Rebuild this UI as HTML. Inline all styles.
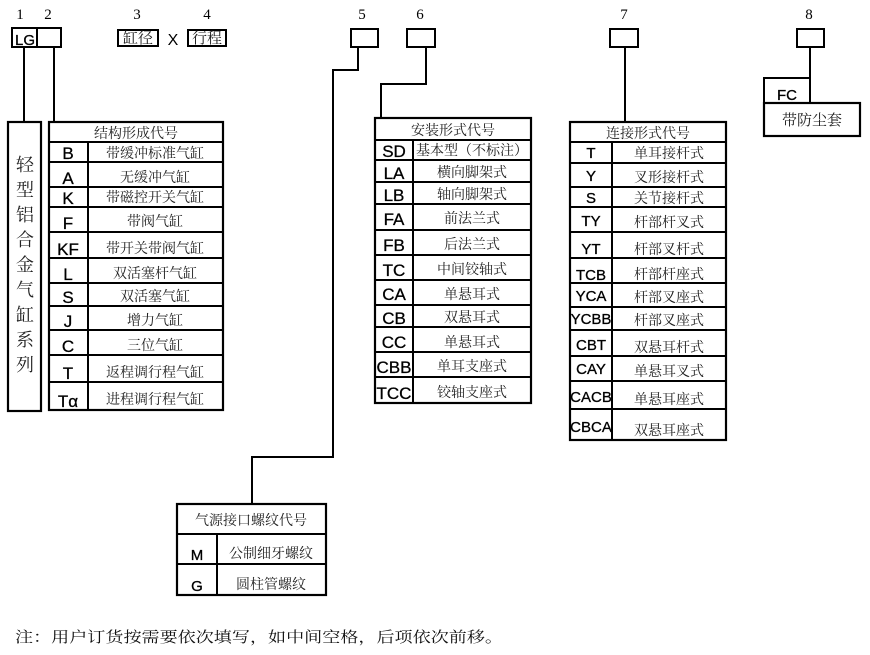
<!DOCTYPE html>
<html><head><meta charset="utf-8"><style>
html,body{margin:0;padding:0;background:#fff;}
svg{display:block;}
.c{font-family:"Liberation Sans","DejaVu Sans",sans-serif;font-size:17px;fill:#000;text-anchor:middle;stroke:#000;stroke-width:0.3;}
.t{font-family:"Liberation Serif","Noto Serif CJK SC",serif;font-size:14px;fill:#222;text-anchor:middle;}
.n{font-family:"Liberation Serif",serif;font-size:15px;fill:#000;text-anchor:middle;}
</style></head><body>
<svg width="870" height="655" viewBox="0 0 870 655" xmlns="http://www.w3.org/2000/svg">
<g fill="none" stroke="#000" stroke-width="2">
<rect x="12" y="28" width="49" height="19"/><line x1="37" y1="28" x2="37" y2="47"/>
<rect x="118" y="30" width="40" height="16"/>
<rect x="188" y="30" width="38" height="16"/>
<rect x="351" y="29" width="27" height="18"/>
<rect x="407" y="29" width="28" height="18"/>
<rect x="610" y="29" width="28" height="18"/>
<rect x="797" y="29" width="27" height="18"/>
<polyline points="24,47 24,122"/>
<polyline points="54,47 54,122"/>
<polyline points="358,47 358,70 333,70 333,457 252,457 252,504"/>
<polyline points="426,47 426,84 381,84 381,118"/>
<polyline points="625,47 625,122"/>
<polyline points="810,47 810,103"/>
<rect x="8" y="122" width="33" height="289" stroke-width="2.2"/>
<rect x="49" y="122" width="174" height="288" stroke-width="2.2"/>
<line x1="88" y1="142" x2="88" y2="410"/>
<path d="M49 142H223M49 162H223M49 187H223M49 207H223M49 232H223M49 258H223M49 283H223M49 306H223M49 330H223M49 355H223M49 382H223"/>
<rect x="375" y="118" width="156" height="285" stroke-width="2.2"/>
<line x1="413" y1="140" x2="413" y2="403"/>
<path d="M375 140H531M375 160H531M375 182H531M375 204H531M375 230H531M375 255H531M375 280H531M375 305H531M375 327H531M375 352H531M375 377H531"/>
<rect x="570" y="122" width="156" height="318" stroke-width="2.2"/>
<line x1="612" y1="142" x2="612" y2="440"/>
<path d="M570 142H726M570 163H726M570 187H726M570 207H726M570 232H726M570 258H726M570 283H726M570 307H726M570 330H726M570 356H726M570 381H726M570 409H726"/>
<rect x="764" y="78" width="46" height="25"/>
<rect x="764" y="103" width="96" height="33" stroke-width="2.2"/>
<rect x="177" y="504" width="149" height="91" stroke-width="2.2"/>
<line x1="217" y1="534" x2="217" y2="595"/>
<path d="M177 534H326M177 564H326"/>
</g>
<text class="n" x="20" y="19">1</text><text class="n" x="48" y="19">2</text>
<text class="n" x="137" y="19">3</text><text class="n" x="207" y="19">4</text>
<text class="n" x="362" y="19">5</text><text class="n" x="420" y="19">6</text>
<text class="n" x="624" y="19">7</text><text class="n" x="809" y="19">8</text>
<text class="c" x="25" y="45" style="font-size:15px">LG</text>
<text class="t" x="138" y="43" style="font-size:15px">缸径</text>
<text class="c" x="173" y="45" style="font-size:16px;stroke-width:0">X</text>
<text class="t" x="207" y="43" style="font-size:15px">行程</text>
<text class="c" x="787" y="100" style="font-size:15px">FC</text>
<text class="t" x="812" y="125" style="font-size:15px">带防尘套</text>
<g class="t" style="font-size:18px">
<text x="25" y="171">轻</text><text x="25" y="196">型</text><text x="25" y="221">铝</text>
<text x="25" y="246">合</text><text x="25" y="271">金</text><text x="25" y="296">气</text>
<text x="25" y="321">缸</text><text x="25" y="346">系</text><text x="25" y="371">列</text>
</g>
<text class="t" x="136" y="138">结构形成代号</text>
<g class="c">
<text x="68" y="159">B</text><text x="68" y="184">A</text><text x="68" y="204">K</text><text x="68" y="229">F</text>
<text x="68" y="255">KF</text><text x="68" y="280">L</text><text x="68" y="303">S</text><text x="68" y="327">J</text>
<text x="68" y="352">C</text><text x="68" y="379">T</text><text x="68" y="407">Tα</text>
</g>
<g class="t">
<text x="155" y="158">带缓冲标准气缸</text><text x="155" y="182">无缓冲气缸</text><text x="155" y="202">带磁控开关气缸</text>
<text x="155" y="226">带阀气缸</text><text x="155" y="253">带开关带阀气缸</text><text x="155" y="278">双活塞杆气缸</text>
<text x="155" y="301">双活塞气缸</text><text x="155" y="325">增力气缸</text><text x="155" y="350">三位气缸</text>
<text x="155" y="377">返程调行程气缸</text><text x="155" y="404">进程调行程气缸</text>
</g>
<text class="t" x="453" y="135">安装形式代号</text>
<g class="c">
<text x="394" y="157">SD</text><text x="394" y="179">LA</text><text x="394" y="201">LB</text><text x="394" y="225">FA</text>
<text x="394" y="251">FB</text><text x="394" y="276">TC</text><text x="394" y="300">CA</text><text x="394" y="324">CB</text>
<text x="394" y="348">CC</text><text x="394" y="373">CBB</text><text x="394" y="399">TCC</text>
</g>
<g class="t">
<text x="472" y="155">基本型（不标注）</text><text x="472" y="177">横向脚架式</text><text x="472" y="199">轴向脚架式</text>
<text x="472" y="223">前法兰式</text><text x="472" y="249">后法兰式</text><text x="472" y="274">中间铰轴式</text>
<text x="472" y="299">单悬耳式</text><text x="472" y="322">双悬耳式</text><text x="472" y="347">单悬耳式</text>
<text x="472" y="371">单耳支座式</text><text x="472" y="397">铰轴支座式</text>
</g>
<text class="t" x="648" y="138">连接形式代号</text>
<g class="c" style="font-size:15px">
<text x="591" y="158">T</text><text x="591" y="181">Y</text><text x="591" y="203">S</text><text x="591" y="226">TY</text>
<text x="591" y="254">YT</text><text x="591" y="280">TCB</text><text x="591" y="301">YCA</text><text x="591" y="324">YCBB</text>
<text x="591" y="350">CBT</text><text x="591" y="374">CAY</text><text x="591" y="402">CACB</text><text x="591" y="432">CBCA</text>
</g>
<g class="t">
<text x="669" y="158">单耳接杆式</text><text x="669" y="182">叉形接杆式</text><text x="669" y="203">关节接杆式</text>
<text x="669" y="227">杆部杆叉式</text><text x="669" y="254">杆部叉杆式</text><text x="669" y="279">杆部杆座式</text>
<text x="669" y="302">杆部叉座式</text><text x="669" y="325">杆部叉座式</text><text x="669" y="352">双悬耳杆式</text>
<text x="669" y="376">单悬耳叉式</text><text x="669" y="404">单悬耳座式</text><text x="669" y="435">双悬耳座式</text>
</g>
<text class="t" x="251" y="525">气源接口螺纹代号</text>
<text class="c" x="197" y="560" style="font-size:15px">M</text>
<text class="c" x="197" y="591" style="font-size:15px">G</text>
<text class="t" x="271" y="558">公制细牙螺纹</text>
<text class="t" x="271" y="589">圆柱管螺纹</text>
<text x="15" y="642" textLength="488" lengthAdjust="spacingAndGlyphs" style="font-family:'Liberation Serif','Noto Serif CJK SC',serif;font-size:15px;fill:#111;">注：用户订货按需要依次填写，如中间空格，后项依次前移。</text>
</svg>
</body></html>
